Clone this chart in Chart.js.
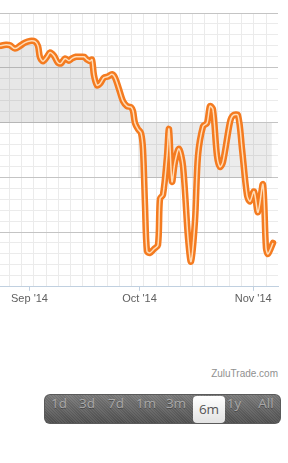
<!DOCTYPE html>
<html>
<head>
<meta charset="utf-8">
<script src="https://cdn.jsdelivr.net/npm/chart.js@4"></script>
<style>
  html, body { margin:0; padding:0; background:#fff; width:288px; height:463px; overflow:hidden; }
  #wrap { position:absolute; left:0; top:0; width:288px; height:308px; }
  #credit { position:absolute; right:10px; top:368px; font:10px "Liberation Sans", Arial, sans-serif; color:#909090; }
  #bar { position:absolute; left:44px; top:394px; width:237px; height:30px; border-radius:6px;
         background:
           repeating-linear-gradient(45deg, rgba(255,255,255,0.05) 0px, rgba(255,255,255,0.05) 1px, rgba(0,0,0,0.05) 1px, rgba(0,0,0,0.05) 2px),
           linear-gradient(#7c7c7c, #505050);
         box-shadow: inset 0 0 0 1px #5a5a5a; }
  .btn { position:absolute; top:0; height:30px; line-height:30px; width:30px; margin-left:-15px; text-align:center;
         font:13.5px "Open Sans", sans-serif; color:#a8a8a8; text-shadow:0 1px 0 rgba(0,0,0,0.3); }
  .sel { top:2px; height:27px; line-height:27px; width:32px; margin-left:-16px; border-radius:4px;
         background:linear-gradient(#ffffff, #e2e2e2); color:#555; text-shadow:none; }
</style>
</head>
<body>
<div id="wrap"><canvas id="c" width="288" height="308"></canvas></div>
<div id="credit">ZuluTrade.com</div>
<div id="bar"></div>
<script>
// ---- data (days since 1 Sep 2014, equity in chart units) ----
const days = [-8.04,-6.41,-5.32,-3.95,-2.59,-1.23,0.14,1.50,2.32,2.86,3.68,4.77,5.59,6.68,7.77,8.59,9.68,10.77,11.59,12.68,13.77,14.86,15.68,16.50,17.04,17.59,18.41,19.23,20.32,21.41,22.50,23.32,24.41,25.50,26.59,27.68,28.23,28.77,29.59,30.41,30.95,31.50,32.04,32.86,33.95,35.04,35.59,36.41,37.50,38.04,38.86,39.68,40.77,41.86,43.23,44.04,45.13,45.95,47.32,48.41,49.23,50.04,51.13,51.95,52.77,54.68,55.50,56.86,57.95,59.32,60.13,61.22,62.31,63.67,64.49,65.04,66.41];
const equity = [4.40,4.42,4.41,4.35,4.40,4.46,4.49,4.48,4.40,4.19,4.12,4.20,4.28,4.22,4.09,4.08,4.17,4.13,4.17,4.20,4.20,4.20,4.15,4.12,4.15,3.86,3.68,3.71,3.82,3.84,3.88,3.82,3.61,3.39,3.30,3.28,3.21,2.99,2.88,2.81,2.52,1.49,0.65,0.62,0.69,0.76,1.61,1.68,2.39,2.88,1.92,2.28,2.52,2.21,0.89,0.46,1.20,2.39,2.93,2.99,3.30,3.24,2.39,2.19,2.28,3.01,3.13,3.13,2.52,1.67,1.56,1.74,1.36,1.87,0.71,0.60,0.80];
// shaded band: first part under the equity curve, second part a fixed zone
const band1End = 29.6, band1Floor = 2.99;
const band2Start = 29.6, band2End = 66.1, band2Top = 2.99, band2Floor = 1.99;
const monthTicks = [0, 30, 61];
const monthLabels = ["Sep '14", "Oct '14", "Nov '14"];
const rangeButtons = ["1d","3d","7d","1m","3m","6m","1y","All"];
const selectedRange = "6m";

// ---- range selector ----
const centers = [59, 87, 116, 146, 176, 209, 234, 266];
const bar = document.getElementById('bar');
rangeButtons.forEach((t, i) => {
  const d = document.createElement('div');
  d.className = 'btn' + (t === selectedRange ? ' sel' : '');
  d.style.left = (centers[i] - 44) + 'px';
  d.textContent = t;
  bar.appendChild(d);
});

// ---- chart ----
const pts = days.map((d, i) => ({x: d, y: equity[i]}));
const band1 = pts.filter(p => p.x <= band1End);
const band2 = [{x: band2Start, y: band2Top}, {x: band2End, y: band2Top}];
const xMin = -8.04, xMax = 67.77;
const minorStart = -5.5, minorStep = 3.335;
const isMonth = v => monthTicks.some(m => Math.abs(m - v) < 1e-6);
const TENSION = 0.3;

new Chart(document.getElementById('c'), {
  type: 'line',
  data: {
    datasets: [
      { data: pts, borderColor: 'rgba(255,226,192,0.95)', borderWidth: 1.5, pointRadius: 0, tension: TENSION, fill: false, order: 0 },
      { data: pts, borderColor: '#F47B20', borderWidth: 6.5, pointRadius: 0, tension: TENSION, fill: false, order: 1,
        borderCapStyle: 'round', borderJoinStyle: 'round' },
      { data: band1, borderWidth: 0, borderColor: 'transparent', backgroundColor: 'rgba(110,110,110,0.17)', pointRadius: 0, tension: TENSION, fill: {value: band1Floor}, order: 2 },
      { data: band2, borderWidth: 0, borderColor: 'transparent', backgroundColor: 'rgba(110,110,110,0.13)', pointRadius: 0, tension: 0, fill: {value: band2Floor}, order: 3 }
    ]
  },
  options: {
    responsive: false,
    animation: false,
    events: [],
    layout: { padding: { top: 13, right: 10, left: 0, bottom: 0 } },
    plugins: { legend: { display: false }, tooltip: { enabled: false } },
    scales: {
      x: {
        type: 'linear', min: xMin, max: xMax,
        afterBuildTicks: (s) => {
          const t = [];
          for (let v = minorStart; v <= xMax + 0.01; v += minorStep) t.push({value: v});
          monthTicks.forEach(m => t.push({value: m}));
          t.sort((a, b) => a.value - b.value);
          s.ticks = t;
        },
        ticks: {
          autoSkip: false, maxRotation: 0, padding: 2,
          font: { family: '"Liberation Sans", Arial, sans-serif', size: 11 }, color: '#606060',
          callback: (v) => { const i = monthTicks.findIndex(m => Math.abs(m - v) < 1e-6); return i >= 0 ? monthLabels[i] : ''; }
        },
        grid: {
          drawOnChartArea: true, drawTicks: true, tickLength: 4,
          color: (c) => (c.tick && isMonth(c.tick.value)) ? 'rgba(0,0,0,0)' : '#EBEBEB',
          tickColor: (c) => (c.tick && isMonth(c.tick.value)) ? '#C0D0E0' : 'rgba(0,0,0,0)'
        },
        border: { display: true, color: '#C0D0E0', width: 1 }
      },
      y: {
        type: 'linear', min: 0, max: 5,
        ticks: { display: false, stepSize: 0.2 },
        grid: {
          drawTicks: false,
          color: (c) => {
            const v = c.tick ? c.tick.value : 0;
            if (Math.abs(v) < 1e-6) return 'rgba(0,0,0,0)';
            return Math.abs(v - Math.round(v)) < 1e-6 ? '#C4C4C4' : '#EBEBEB';
          }
        },
        border: { display: false }
      }
    }
  }
});
</script>
</body>
</html>
